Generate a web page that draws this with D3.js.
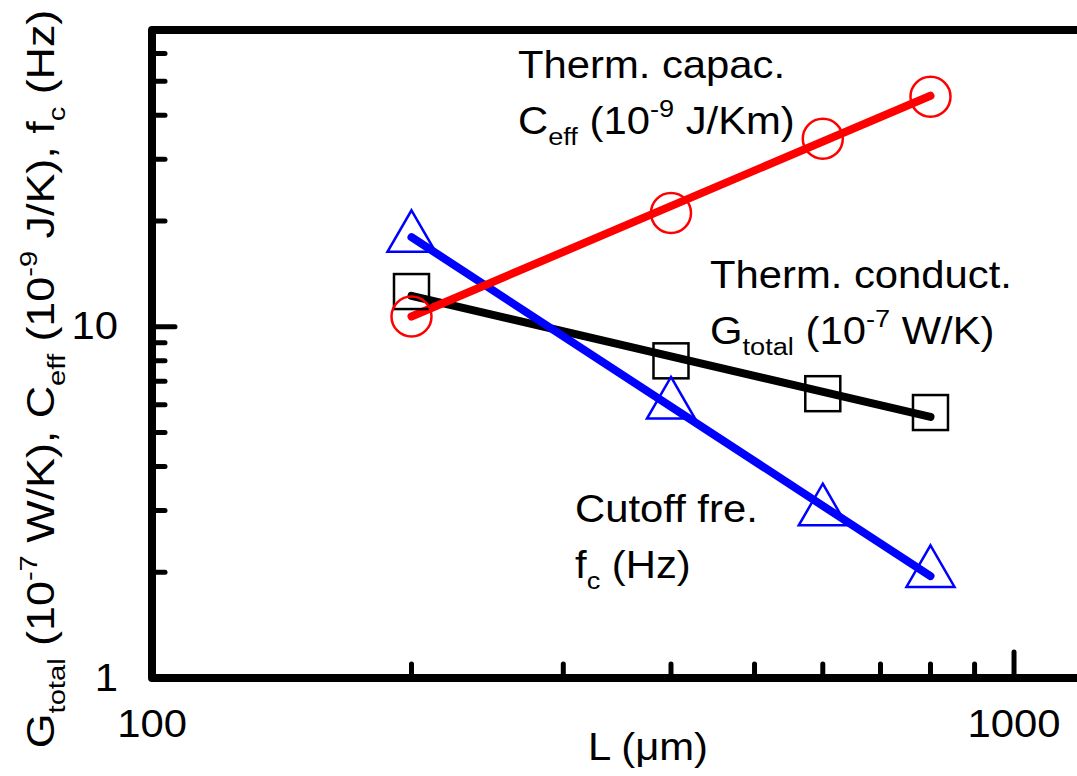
<!DOCTYPE html>
<html lang="en">
<head>
    <meta charset="UTF-8">
    <title>Thermal parameters vs L</title>
    <script src="https://d3js.org/d3.v7.min.js"></script>
    <style>
        body { margin: 0; background: #fff; }
        text { font-family: "Liberation Sans", Arial, sans-serif; fill: #000; }
    </style>
</head>
<body>
    <svg id="chart"></svg>

    <script>
        // Data
        const lengths = [200, 400, 600, 800];            // L (um)
        const gTotal = [12.6, 8.0, 6.45, 5.7];            // 10^-7 W/K
        const cEff = [10.7, 21.1, 34.3, 45.2];            // 10^-9 J/Km
        const fCut = [17.9, 6.0, 2.98, 1.99];             // Hz

        // Power-law fit lines (end values)
        const fitL = [200, 800];
        const gFit = [12.25, 5.54];
        const cFit = [10.7, 45.5];
        const fFit = [18.0, 1.95];

        const xMajor = [100, 1000];
        const xMinor = [200, 300, 400, 500, 600, 700, 800, 900];
        const yMajor = [1, 10];
        const yMinor = [2, 3, 4, 5, 6, 7, 8, 9, 20, 30, 40, 50, 60];

        const width = 1077, height = 776;
        const plotLeft = 152, plotRight = 1090, plotTop = 30, plotBottom = 678;
        const fs = 38, stretch = 1.1; // text in the original is a bit wide

        const svg = d3.select("#chart")
            .attr("width", width)
            .attr("height", height);

        const x = d3.scaleLog().domain([100, 1225]).range([plotLeft, plotRight]);
        const y = d3.scaleLog().domain([1, 70]).range([plotBottom, plotTop]);

        const at = (px, py, rot, sx = stretch) =>
            `translate(${px},${py})${rot ? ` rotate(${rot})` : ""} scale(${sx},1)`;

        // frame: top, left, bottom
        svg.append("path")
            .attr("d", `M${plotRight},${plotTop}H${plotLeft}V${plotBottom}H${plotRight}`)
            .attr("fill", "none")
            .attr("stroke", "#000")
            .attr("stroke-width", 8)
            .attr("stroke-linejoin", "round");

        // ticks (inward)
        const ticks = svg.append("g")
            .attr("stroke", "#000")
            .attr("stroke-width", 5)
            .attr("stroke-linecap", "round");

        ticks.selectAll(".xmaj").data(xMajor.slice(1)).join("line")
            .attr("x1", d => x(d)).attr("x2", d => x(d))
            .attr("y1", plotBottom).attr("y2", plotBottom - 26);
        ticks.selectAll(".xmin").data(xMinor).join("line")
            .attr("x1", d => x(d)).attr("x2", d => x(d))
            .attr("y1", plotBottom).attr("y2", plotBottom - 14);
        ticks.selectAll(".ymaj").data(yMajor.slice(1)).join("line")
            .attr("x1", plotLeft).attr("x2", plotLeft + 23)
            .attr("y1", d => y(d)).attr("y2", d => y(d));
        ticks.selectAll(".ymin").data(yMinor).join("line")
            .attr("x1", plotLeft).attr("x2", plotLeft + 13)
            .attr("y1", d => y(d)).attr("y2", d => y(d));

        // tick labels
        svg.selectAll(".xlab").data(xMajor).join("text")
            .attr("transform", d => at(x(d), 737))
            .attr("text-anchor", "middle")
            .attr("font-size", fs)
            .text(d => d);
        svg.selectAll(".ylab").data(yMajor).join("text")
            .attr("transform", d => at(118, y(d) + 12.5))
            .attr("text-anchor", "end")
            .attr("font-size", fs)
            .text(d => d);

        // axis titles
        svg.append("text")
            .attr("transform", at(648, 760))
            .attr("text-anchor", "middle")
            .attr("font-size", fs)
            .text("L (\u03bcm)");

        // helper: text with sub/superscripts, parts = [[text, "n"|"sub"|"sup"], ...]
        function richText(sel, parts, size) {
            let shift = 0;
            parts.forEach(([t, kind]) => {
                const target = kind === "sub" ? 11 : kind === "sup" ? -17 : 0;
                sel.append("tspan")
                    .attr("dy", target - shift)
                    .attr("font-size", kind === "n" ? size : size * 0.65)
                    .text(t);
                shift = target;
            });
        }

        const yTitle = svg.append("text")
            .attr("transform", at(54, 379, -90, 1.18))
            .attr("text-anchor", "middle")
            .attr("font-size", fs);
        richText(yTitle, [
            ["G", "n"], ["total", "sub"], [" (10", "n"], ["-7", "sup"], [" W/K), C", "n"],
            ["eff", "sub"], [" (10", "n"], ["-9", "sup"], [" J/K), f", "n"], ["c", "sub"], [" (Hz)", "n"]
        ], fs);

        // fit lines
        const line = d3.line().x(d => x(d[0])).y(d => y(d[1]));
        const fits = [
            { vals: gFit, color: "#000" },
            { vals: fFit, color: "#0000ff" },
            { vals: cFit, color: "#ff0000" }
        ];
        fits.forEach(f => {
            svg.append("path")
                .datum(fitL.map((l, i) => [l, f.vals[i]]))
                .attr("d", line)
                .attr("fill", "none")
                .attr("stroke", f.color)
                .attr("stroke-width", 8)
                .attr("stroke-linecap", "round");
        });

        // markers
        svg.selectAll(".sq").data(lengths).join("rect")
            .attr("x", d => x(d) - 17.5)
            .attr("y", (d, i) => y(gTotal[i]) - 17.5)
            .attr("width", 35).attr("height", 35)
            .attr("fill", "none")
            .attr("stroke", "#000")
            .attr("stroke-width", 2.5);

        const tri = d3.symbol().type(d3.symbolTriangle).size(1000);
        svg.selectAll(".tri").data(lengths).join("path")
            .attr("transform", (d, i) => `translate(${x(d)},${y(fCut[i])})`)
            .attr("d", tri)
            .attr("fill", "none")
            .attr("stroke", "#0000ff")
            .attr("stroke-width", 2.5);

        svg.selectAll(".circ").data(lengths).join("circle")
            .attr("cx", d => x(d))
            .attr("cy", (d, i) => y(cEff[i]))
            .attr("r", 20)
            .attr("fill", "none")
            .attr("stroke", "#ff0000")
            .attr("stroke-width", 2.5);

        // annotations
        function label(px, py, first, parts) {
            svg.append("text").attr("transform", at(px, py))
                .attr("font-size", fs).text(first);
            const t = svg.append("text").attr("transform", at(px, py + 56))
                .attr("font-size", fs);
            richText(t, parts, fs);
        }
        label(518, 78, "Therm. capac.", [["C", "n"], ["eff", "sub"], [" (10", "n"], ["-9", "sup"], [" J/Km)", "n"]]);
        label(710, 288, "Therm. conduct.", [["G", "n"], ["total", "sub"], [" (10", "n"], ["-7", "sup"], [" W/K)", "n"]]);
        label(575, 522, "Cutoff fre.", [["f", "n"], ["c", "sub"], [" (Hz)", "n"]]);
    </script>
</body>
</html>
